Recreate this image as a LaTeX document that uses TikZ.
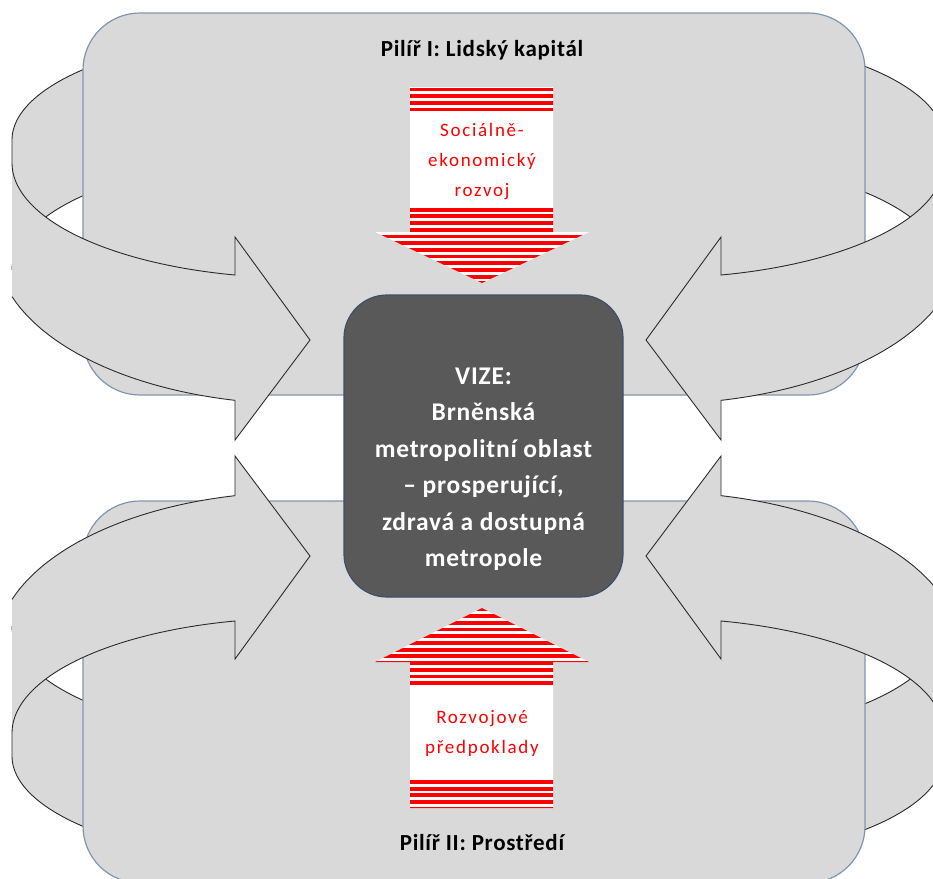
\documentclass[tikz,border=0pt]{standalone}
\usepackage{fontspec}
\setmainfont{Carlito}
\newfontfamily\redfont[LetterSpace=9]{Carlito}
\newfontfamily\ttlfont[LetterSpace=3]{Carlito}
\newfontfamily\vizefont[LetterSpace=3]{Carlito}
\definecolor{cloudgray}{HTML}{D9D9D9}
\definecolor{cloudedge}{HTML}{8096B0}
\definecolor{ribedge}{HTML}{2B2B2B}
\definecolor{vizefill}{HTML}{595959}
\definecolor{vizeedge}{HTML}{3E5068}
\definecolor{stripered}{HTML}{FF0000}
\newcommand\ribBack{%
  \fill[cloudgray] plot[domain=226.05:180,samples=40,variable=\pa]({300+288*cos(\pa)},{140+107*sin(\pa)}) -- (12,270) -- plot[domain=180:226.05,samples=40,variable=\pa]({300+288*cos(\pa)},{270+113*sin(\pa)}) -- cycle;
  \draw[ribline] plot[domain=226.05:180,samples=40,variable=\pa]({300+288*cos(\pa)},{140+107*sin(\pa)}) -- (12,163);
  \draw[ribline] plot[domain=180:226.05,samples=40,variable=\pa]({300+288*cos(\pa)},{270+113*sin(\pa)});
}
\newcommand\ribFront{%
  \fill[cloudgray] plot[domain=180:103.04,samples=50,variable=\pa]({300+288*cos(\pa)},{163+115*sin(\pa)}) -- (235,237) -- (310,340) -- (235,440) -- plot[domain=102.35:161.3,samples=50,variable=\pa]({300+304*cos(\pa)},{246+158*sin(\pa)}) -- cycle;
  \draw[ribline] plot[domain=180:103.04,samples=50,variable=\pa]({300+288*cos(\pa)},{163+115*sin(\pa)}) -- (235,237) -- (310,340) -- (235,440) -- plot[domain=102.35:161.3,samples=50,variable=\pa]({300+304*cos(\pa)},{246+158*sin(\pa)});
}
\begin{document}
\begin{tikzpicture}[x=1pt,y=-1pt,
  cloud/.style={fill=cloudgray, draw=cloudedge, line width=1.2pt, rounded corners=57pt, inner sep=0pt},
  ribline/.style={draw=ribedge, line width=0.9pt, line join=miter},
  vizebox/.style={fill=vizefill, draw=vizeedge, line width=1.2pt, rounded corners=43pt, minimum width=279pt, minimum height=302pt, inner sep=0pt},
  vizetxt/.style={text=white, align=center, inner sep=0pt, font=\vizefont\bfseries\fontsize{25.5}{36.5}\selectfont},
  redtxt/.style={text=stripered, align=center, inner sep=0pt, font=\redfont\fontsize{19}{30}\selectfont},
  ttl/.style={font=\ttlfont\bfseries\fontsize{23}{28}\selectfont, anchor=base, inner sep=0pt}]
\useasboundingbox (0,0) rectangle (933,878);
\clip (0,0) rectangle (933,878);
\fill[white] (0,0) rectangle (933,878);
% top pillar
\ribBack
\begin{scope}[shift={(956,0)},xscale=-1]\ribBack\end{scope}
\node[cloud, minimum width=782pt, minimum height=382pt] (pilir1) at (474,204) {};
% bottom pillar
\begin{scope}[shift={(0,896)},yscale=-1]\ribBack\end{scope}
\begin{scope}[shift={(956,896)},xscale=-1,yscale=-1]\ribBack\end{scope}
\node[cloud, minimum width=782pt, minimum height=382pt] (pilir2) at (474,692) {};
% front bands
\ribFront
\begin{scope}[shift={(956,0)},xscale=-1]\ribFront\end{scope}
\begin{scope}[shift={(0,896)},yscale=-1]\ribFront\end{scope}
\begin{scope}[shift={(956,896)},xscale=-1,yscale=-1]\ribFront\end{scope}
% top striped arrow
\begin{scope}
\clip (410,87) -- (553,87) -- (553,232) -- (589,232) -- (482,283) -- (375,232) -- (410,232) -- cycle;
\fill[white] (360,80) rectangle (600,290);
\foreach \s in {87.5,94.2,100.9,107.6,207.7,214.4,221.1,227.8,234.5,241.2,247.9,254.6,261.3,268,274.7,281.4}
  \fill[stripered] (360,\s) rectangle (600,{\s+3.8});
\end{scope}
% bottom striped arrow
\begin{scope}
\clip (482,608) -- (589,662) -- (553,662) -- (553,808) -- (410,808) -- (410,662) -- (375,662) -- cycle;
\fill[white] (360,600) rectangle (600,815);
\foreach \s in {607.5,614.2,620.9,627.6,634.3,641,647.7,654.4,661.1,667.8,674.5,681.2,780,786.7,793.4,800.1,806.8}
  \fill[stripered] (360,\s) rectangle (600,{\s+3.8});
\end{scope}
\node[redtxt] (soc) at (482,161.6) {Sociálně-\\ekonomický\\rozvoj};
\node[redtxt] (rozv) at (482,733.3) {Rozvojové\\předpoklady};
% vision box
\node[vizebox] (vize) at (483.5,446) {};
\node[vizetxt] (vizet) at (483.5,469) {VIZE:\\Brněnská\\metropolitní oblast\\– prosperující,\\zdravá a dostupná\\metropole};
% titles
\node[ttl] (p1) at (482,56.3) {Pilíř I: Lidský kapitál};
\node[ttl] (p2) at (482,850) {Pilíř II: Prostředí};
\end{tikzpicture}
\end{document}
